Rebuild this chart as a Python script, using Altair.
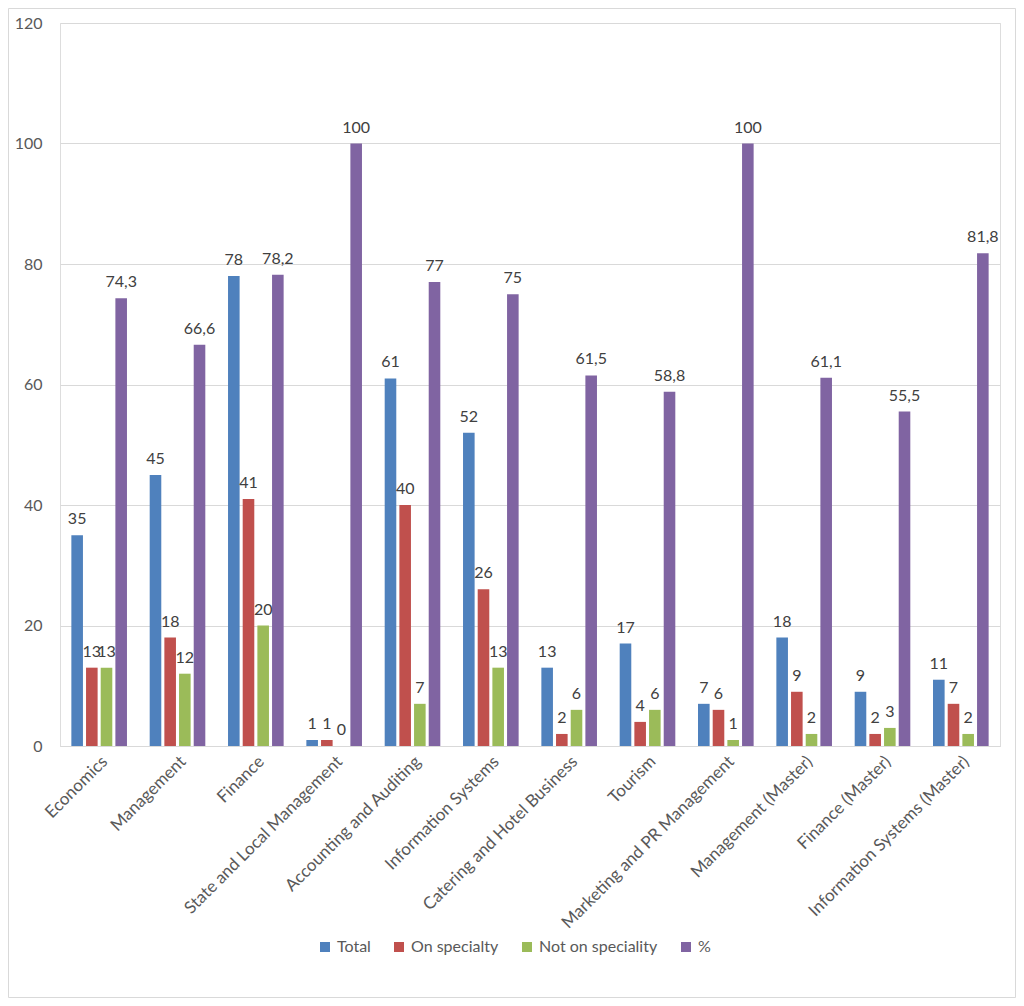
import altair as alt
import pandas as pd

categories = [
    "Economics", "Management", "Finance", "State and Local Management",
    "Accounting and Auditing", "Information Systems", "Catering and Hotel Business",
    "Tourism", "Marketing and PR Management", "Management (Master)",
    "Finance (Master)", "Information Systems (Master)",
]
series = ["Total", "On specialty", "Not on speciality", "%"]
total = [35, 45, 78, 1, 61, 52, 13, 17, 7, 18, 9, 11]
on_specialty = [13, 18, 41, 1, 40, 26, 2, 4, 6, 9, 2, 7]
not_on_speciality = [13, 12, 20, 0, 7, 13, 6, 6, 1, 2, 3, 2]
percent = [74.3, 66.6, 78.2, 100, 77, 75, 61.5, 58.8, 100, 61.1, 55.5, 81.8]
colors = ["#4F81BD", "#C0504D", "#9BBB59", "#8064A2"]
y_ticks = [0, 20, 40, 60, 80, 100, 120]

FONT = "Lato"


def fmt(v):
    if float(v).is_integer():
        return str(int(v))
    return ("%g" % v).replace(".", ",")


rows = []
for s, vals in zip(series, [total, on_specialty, not_on_speciality, percent]):
    for c, v in zip(categories, vals):
        rows.append({"category": c, "series": s, "value": v, "label": fmt(v)})
df = pd.DataFrame(rows)

x_enc = alt.X(
    "category:N", sort=categories, title=None,
    scale=alt.Scale(paddingInner=0.29, paddingOuter=0.145),
    axis=alt.Axis(labelAngle=-45, labelFontSize=17, labelColor="#595959", labelFont=FONT,
                  domainColor="#D9D9D9", ticks=False, grid=False, labelPadding=7,
                  labelLimit=400),
)
xo_enc = alt.XOffset("series:N", sort=series, scale=alt.Scale(paddingInner=0.21, paddingOuter=0))
y_enc = alt.Y(
    "value:Q", title=None,
    scale=alt.Scale(domain=[0, 120], nice=False),
    axis=alt.Axis(values=y_ticks, labelFontSize=16, labelColor="#595959", labelFont=FONT,
                  domain=False, ticks=False, gridColor="#D9D9D9", labelPadding=18),
)

bars = alt.Chart(df).mark_bar().encode(
    x=x_enc,
    xOffset=xo_enc,
    y=y_enc,
    color=alt.Color(
        "series:N", sort=series, title=None,
        scale=alt.Scale(domain=series, range=colors),
        legend=alt.Legend(orient="none", direction="horizontal", legendX=257, legendY=916,
                          symbolType="square", symbolSize=100, symbolStrokeWidth=0,
                          labelFontSize=16, labelColor="#595959", labelFont=FONT,
                          columnPadding=20, labelOffset=4),
    ),
)

labels = alt.Chart(df).mark_text(
    baseline="alphabetic", dy=-11, fontSize=16, color="#404040", font=FONT
).encode(
    x=alt.X("category:N", sort=categories),
    xOffset=alt.XOffset("series:N", sort=series),
    y=alt.Y("value:Q"),
    text="label:N",
)

border = alt.Chart(alt.Data(values=[{"a": 1}])).mark_rect(
    filled=False, stroke="#D9D9D9", strokeWidth=1
).encode(
    x=alt.value(-51.5), x2=alt.value(955.5), y=alt.value(-14.5), y2=alt.value(974.5)
)

chart = alt.layer(bars, labels, border).properties(
    width=940, height=723,
    autosize=alt.AutoSizeParams(type="none"),
    padding={"left": 52, "top": 15, "right": 16, "bottom": 252},
).configure_view(strokeWidth=0).configure(background="white")

chart.save("out.html", embed_options={"renderer": "svg", "actions": False})
